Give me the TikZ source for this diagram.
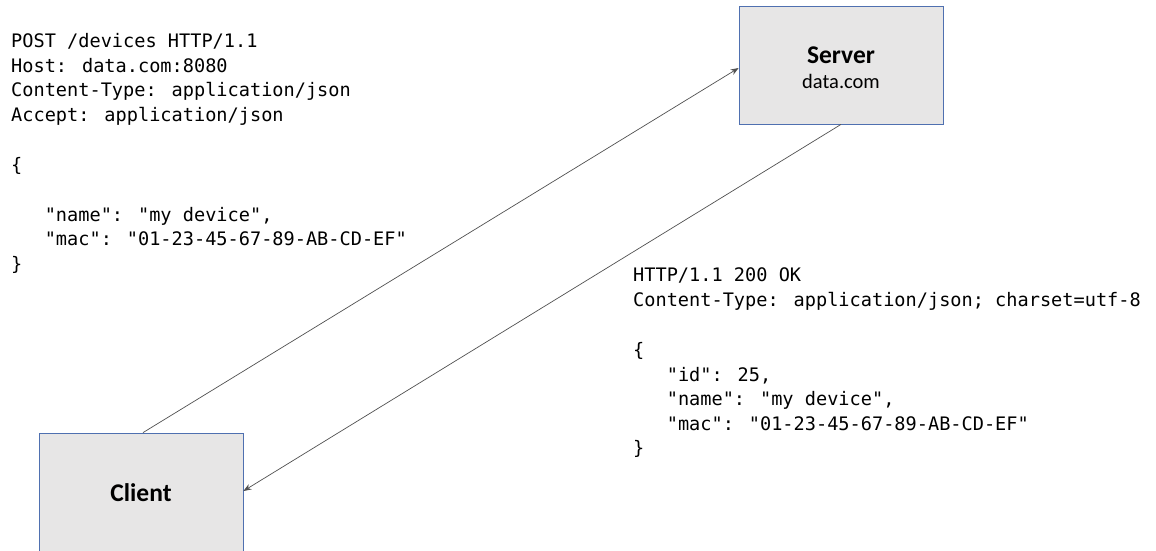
\documentclass[tikz,border=0pt]{standalone}
\usepackage{fontspec}
\setmainfont{Carlito}
\newfontfamily\codefont{DejaVu Sans Mono}
\usetikzlibrary{arrows.meta}
\definecolor{boxfill}{HTML}{E7E6E6}
\definecolor{boxline}{HTML}{4F70B0}
\definecolor{wire}{HTML}{505050}
\newcommand\codeindent{\phantom{000}}
\begin{document}
\begin{tikzpicture}[x=1pt,y=1pt,
  box/.style={draw=boxline, fill=boxfill, line width=0.8pt, minimum width=204pt, minimum height=118pt, inner sep=0pt},
  boxtitle/.style={font=\fontsize{25.5}{30}\selectfont\bfseries, inner sep=0pt, anchor=base},
  boxsub/.style={font=\fontsize{20.5}{24}\selectfont, inner sep=0pt, anchor=base},
  codeline/.style={font=\codefont\fontsize{18.6}{24.5}\selectfont, anchor=base west, inner sep=0pt},
  wirestyle/.style={draw=wire, line width=0.7pt, -{Stealth[length=8pt,width=6pt]}}]
\useasboundingbox (0,0) rectangle (1156,-550);
% boxes
\node[box] (server) at (841,-65) {};
\node[boxtitle] (servertitle) at (841,-63) {Server};
\node[boxsub] (serverhost) at (841,-88) {data.com};
\node[box, minimum height=126pt] (client) at (141,-496) {};
\node[boxtitle] (clienttitle) at (141,-501) {Client};
% request
\node[codeline] (l1) at (11,-47.7) {POST /devices HTTP/1.1};
\node[codeline] (l2) at (11,-72.2) {Host: data.com:8080};
\node[codeline] (l3) at (11,-96.7) {Content-Type: application/json};
\node[codeline] (l4) at (11,-121.2) {Accept: application/json};
\node[codeline] (l5) at (11,-171) {\{};
\node[codeline] (l6) at (11,-221) {\codeindent"name": "my device",};
\node[codeline] (l7) at (11,-245.5) {\codeindent"mac": "01-23-45-67-89-AB-CD-EF"};
\node[codeline] (l8) at (11,-270) {\}};
% response
\node[codeline] (r1) at (633,-281.7) {HTTP/1.1 200 OK};
\node[codeline] (r2) at (633,-306.2) {Content-Type: application/json; charset=utf-8};
\node[codeline] (r3) at (633,-356) {\{};
\node[codeline] (r4) at (633,-381) {\codeindent"id": 25,};
\node[codeline] (r5) at (633,-405.5) {\codeindent"name": "my device",};
\node[codeline] (r6) at (633,-430) {\codeindent"mac": "01-23-45-67-89-AB-CD-EF"};
\node[codeline] (r7) at (633,-454.5) {\}};
% connectors
\draw[wirestyle] ([xshift=2pt]client.north) -- ([yshift=-3pt]server.west);
\draw[wirestyle] (server.south) -- ([yshift=5pt]client.east);
\end{tikzpicture}
\end{document}
